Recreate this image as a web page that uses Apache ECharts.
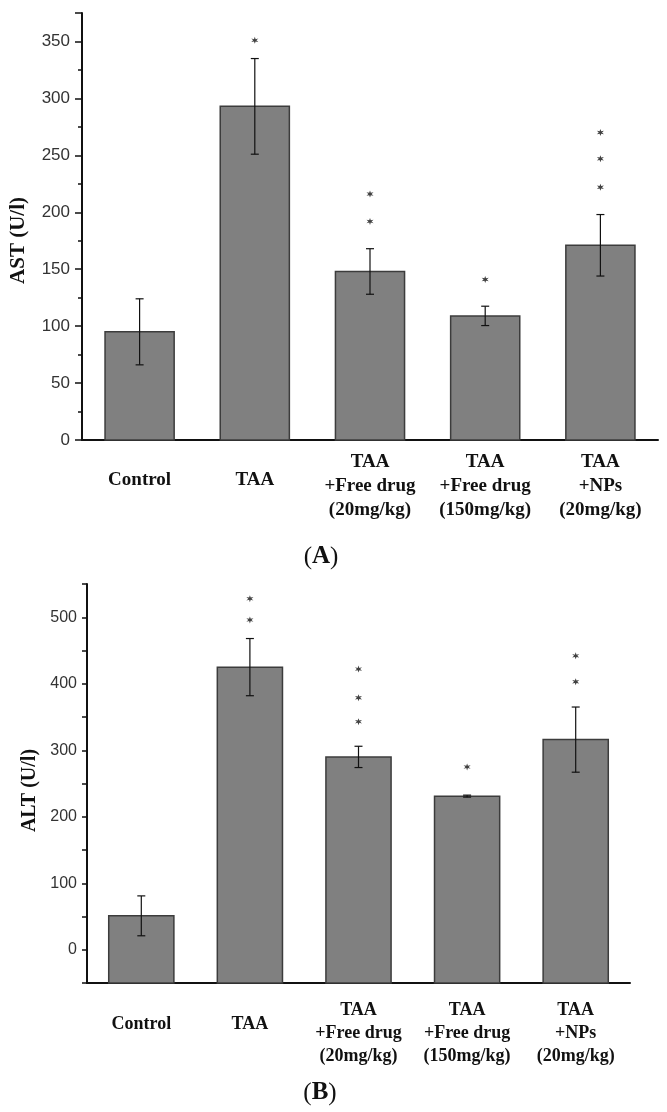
<!DOCTYPE html>
<html>
<head>
<meta charset="utf-8">
<script src="https://cdn.jsdelivr.net/npm/echarts@6/dist/echarts.min.js"></script>
<style>
html, body { margin: 0; padding: 0; background: #fff; }
#main { width: 667px; height: 1112px; }
</style>
</head>
<body>
<div id="main"></div>
<script>
// groups on the x axis
var groups = ['Control', 'TAA', 'TAA\n+Free drug\n(20mg/kg)', 'TAA\n+Free drug\n(150mg/kg)', 'TAA\n+NPs\n(20mg/kg)'];

// panel A - AST
var astMean = [95, 293, 148, 109, 171];
var astErr = [29, 42, 20, 8.5, 27];
var astStars = [[1, 351], [2, 216], [2, 192], [3, 141], [4, 270], [4, 247], [4, 222]];
var astTickLabels = [0, 50, 100, 150, 200, 250, 300, 350];

// panel B - ALT
var altMean = [51, 425, 290, 231, 316];
var altErr = [30, 43, 16, 1.5, 49];
var altStars = [[1, 528], [1, 496], [2, 422], [2, 379], [2, 343], [3, 275], [4, 442], [4, 403]];
var altTickLabels = [0, 100, 200, 300, 400, 500];

var chartDom = document.getElementById('main');
var myChart = echarts.init(chartDom);

var serif = '"Liberation Serif", "Times New Roman", serif';
var sans = '"Liberation Sans", Arial, sans-serif';

// axis ranges (the bars start at the bottom of the axis, like in Origin)
var astMin = 0, astMax = 375;
var altMin = -50, altMax = 550;

function catData(names, lh, lhSingle) {
    return names.map(function (n) {
        return {value: n, textStyle: {lineHeight: n.indexOf('\n') < 0 ? lhSingle : lh}};
    });
}

function barData(mean) {
    return mean.map(function (m, i) {
        return [i, m];
    });
}

function errData(mean, err) {
    return mean.map(function (m, i) {
        return [i, m - err[i], m + err[i]];
    });
}

function barItem(base) {
    return function (params, api) {
        var i = api.value(0);
        var top = api.coord([i, api.value(1)]);
        var bot = api.coord([i, base]);
        var w = api.size([1, 0])[0] * 0.6;
        return {
            type: 'rect',
            shape: {x: top[0] - w / 2, y: top[1], width: w, height: bot[1] - top[1]},
            style: {fill: '#808080', stroke: '#3c3c3c', lineWidth: 1.5}
        };
    };
}

function errorItem(params, api) {
    var i = api.value(0);
    var lo = api.coord([i, api.value(1)]);
    var hi = api.coord([i, api.value(2)]);
    var w = 4;
    var st = {stroke: '#111', lineWidth: 1.2};
    return {
        type: 'group',
        children: [
            {type: 'line', shape: {x1: hi[0], y1: hi[1], x2: lo[0], y2: lo[1]}, style: st},
            {type: 'line', shape: {x1: hi[0] - w, y1: hi[1], x2: hi[0] + w, y2: hi[1]}, style: st},
            {type: 'line', shape: {x1: lo[0] - w, y1: lo[1], x2: lo[0] + w, y2: lo[1]}, style: st}
        ]
    };
}

function tickFmt(list) {
    return function (v) {
        return list.indexOf(v) >= 0 ? String(v) : '';
    };
}

function panelTag(letter, x, y) {
    return {
        type: 'text', x: x, y: y,
        style: {
            text: '{p|(}{b|' + letter + '}{p|)}', align: 'center', verticalAlign: 'middle',
            rich: {
                p: {fontFamily: serif, fontSize: 25, fill: '#111'},
                b: {fontFamily: serif, fontSize: 25, fontWeight: 'bold', fill: '#111'}
            }
        }
    };
}

var starPath = 'path://M0,-5L1,-1.7L4.3,-2.5L2,0L4.3,2.5L1,1.7L0,5L-1,1.7L-4.3,2.5L-2,0L-4.3,-2.5L-1,-1.7Z';

var option = {
    backgroundColor: '#fff',
    animation: false,
    grid: [
        {left: 81, top: 13, width: 577, height: 427},
        {left: 87, top: 584, width: 543, height: 399}
    ],
    xAxis: [
        {
            type: 'category', gridIndex: 0, position: 'bottom', data: catData(groups, 24, 60),
            axisLine: {onZero: false, lineStyle: {color: '#111', width: 2}},
            axisTick: {alignWithLabel: true, length: 6, lineStyle: {color: '#111', width: 2}},
            axisLabel: {interval: 0, margin: 10, fontFamily: serif, fontWeight: 'bold', fontSize: 19, color: '#111'}
        },
        {
            type: 'category', gridIndex: 0, position: 'bottom', data: groups,
            axisLine: {show: false, onZero: false},
            axisTick: {length: 3, lineStyle: {color: '#111', width: 2}},
            axisLabel: {show: false}
        },
        {
            type: 'category', gridIndex: 1, position: 'bottom', data: catData(groups, 23, 51),
            axisLine: {onZero: false, lineStyle: {color: '#111', width: 2}},
            axisTick: {alignWithLabel: true, length: 6, lineStyle: {color: '#111', width: 2}},
            axisLabel: {interval: 0, margin: 16, fontFamily: serif, fontWeight: 'bold', fontSize: 18, color: '#111'}
        },
        {
            type: 'category', gridIndex: 1, position: 'bottom', data: groups,
            axisLine: {show: false, onZero: false},
            axisTick: {length: 3, lineStyle: {color: '#111', width: 2}},
            axisLabel: {show: false}
        }
    ],
    yAxis: [
        {
            type: 'value', gridIndex: 0, position: 'left', min: astMin, max: astMax, interval: 50,
            name: 'AST (U/l)', nameLocation: 'middle', nameGap: 53,
            nameTextStyle: {fontFamily: serif, fontWeight: 'bold', fontSize: 21, color: '#111', padding: [0, 28, 0, 0]},
            splitLine: {show: false},
            axisLine: {show: true, lineStyle: {color: '#111', width: 2}},
            axisTick: {show: true, length: 7, lineStyle: {color: '#111', width: 1.5}},
            axisLabel: {margin: 12, fontFamily: sans, fontSize: 17, color: '#333', formatter: tickFmt(astTickLabels)}
        },
        {
            type: 'value', gridIndex: 0, position: 'left', min: astMin, max: astMax, interval: 25,
            splitLine: {show: false},
            axisLine: {show: false},
            axisTick: {show: true, length: 4, lineStyle: {color: '#111', width: 1.5}},
            axisLabel: {show: false}
        },
        {
            type: 'value', gridIndex: 1, position: 'left', min: altMin, max: altMax, interval: 50,
            name: 'ALT (U/l)', nameLocation: 'middle', nameGap: 47,
            nameTextStyle: {fontFamily: serif, fontWeight: 'bold', fontSize: 20, color: '#111', padding: [0, 14, 0, 0]},
            splitLine: {show: false},
            axisLine: {show: true, lineStyle: {color: '#111', width: 2}},
            axisTick: {show: true, length: 5, lineStyle: {color: '#111', width: 1.5}},
            axisLabel: {margin: 10, fontFamily: sans, fontSize: 16, color: '#333', formatter: tickFmt(altTickLabels)}
        }
    ],
    graphic: [
        panelTag('A', 321, 557),
        panelTag('B', 320, 1093)
    ],
    series: [
        {
            type: 'custom', xAxisIndex: 0, yAxisIndex: 0, data: barData(astMean),
            encode: {x: 0, y: 1}, renderItem: barItem(astMin), z: 2
        },
        {
            type: 'custom', xAxisIndex: 0, yAxisIndex: 0, data: errData(astMean, astErr),
            encode: {x: 0, y: [1, 2]}, renderItem: errorItem, z: 5
        },
        {
            type: 'scatter', xAxisIndex: 0, yAxisIndex: 0, data: astStars,
            symbol: starPath, symbolSize: 7, itemStyle: {color: '#111'}, z: 6
        },
        {
            type: 'custom', xAxisIndex: 2, yAxisIndex: 2, data: barData(altMean),
            encode: {x: 0, y: 1}, renderItem: barItem(altMin), z: 2
        },
        {
            type: 'custom', xAxisIndex: 2, yAxisIndex: 2, data: errData(altMean, altErr),
            encode: {x: 0, y: [1, 2]}, renderItem: errorItem, z: 5
        },
        {
            type: 'scatter', xAxisIndex: 2, yAxisIndex: 2, data: altStars,
            symbol: starPath, symbolSize: 7, itemStyle: {color: '#111'}, z: 6
        }
    ]
};

option && myChart.setOption(option);
</script>
</body>
</html>
